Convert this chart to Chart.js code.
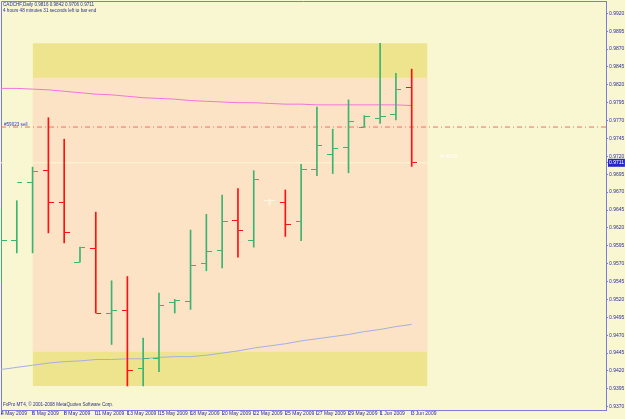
<!DOCTYPE html>
<html><head><meta charset="utf-8">
<script src="https://cdn.jsdelivr.net/npm/chart.js@4.4.1/dist/chart.umd.min.js"></script>
<style>html,body{margin:0;padding:0;background:#F8F7D2;overflow:hidden}canvas{display:block}</style>
</head><body>
<canvas id="c" width="625" height="419"></canvas>
<script>
// ---------------- data ----------------
const symbolTitle = 'CADCHF,Daily';
const timerText = '4 hours 48 minutes 31 seconds left to bar end';
const copyrightText = 'FxPro MT4, \u00A9 2001-2008 MetaQuotes Software Corp.';
const dates = ['4 May 2009','5 May 2009','6 May 2009','7 May 2009','8 May 2009','10 May 2009','11 May 2009',
  '12 May 2009','13 May 2009','14 May 2009','15 May 2009','17 May 2009','18 May 2009','19 May 2009',
  '20 May 2009','21 May 2009','22 May 2009','24 May 2009','25 May 2009','26 May 2009','27 May 2009',
  '28 May 2009','29 May 2009','31 May 2009','1 Jun 2009','2 Jun 2009','3 Jun 2009'];
const opens  = [0.9597,0.9602,0.9684,0.9700,0.9656,0.9572,0.9591,0.9501,0.9505,0.9423,0.9438,0.9515,0.9517,0.9570,
  0.9589,0.9631,0.9603,0.9658,0.9656,0.9629,0.9702,0.9722,0.9733,0.9761,0.9773,0.9778,0.9816];
const highs  = [0.9648,0.9658,0.9705,0.9774,0.9744,0.9593,0.9642,0.9546,0.9552,0.9466,0.9529,0.9520,0.9617,0.9639,
  0.9666,0.9675,0.9700,0.9660,0.9673,0.9709,0.9789,0.9758,0.9799,0.9777,0.9878,0.9836,0.9842];
const lows   = [0.9543,0.9585,0.9585,0.9613,0.9599,0.9572,0.9501,0.9457,0.9399,0.9399,0.9419,0.9501,0.9506,0.9560,
  0.9564,0.9579,0.9593,0.9652,0.9608,0.9602,0.9693,0.9696,0.9697,0.9761,0.9766,0.9771,0.9706];
const closes = [0.9603,0.9684,0.9699,0.9656,0.9614,0.9592,0.9501,0.9504,0.9421,0.9438,0.9511,0.9519,0.9568,0.9587,
  0.9629,0.9616,0.9688,0.9658,0.9625,0.9702,0.9735,0.9731,0.9769,0.9776,0.9776,0.9813,0.9711];
const maPink = [0.9815,0.9815,0.9814,0.9813,0.9811,0.9809,0.9807,0.9806,0.9804,0.9802,0.9801,0.9800,0.9798,0.9797,
  0.9796,0.9795,0.9795,0.9794,0.9793,0.9793,0.9792,0.9792,0.9792,0.9792,0.9792,0.9792,0.9791];
const maBlue = [0.9422,0.9425,0.9428,0.9431,0.9433,0.9434,0.9436,0.9436,0.9437,0.9437,0.9439,0.9440,0.9440,0.9442,
  0.9445,0.9448,0.9452,0.9455,0.9458,0.9462,0.9465,0.9468,0.9471,0.9475,0.9478,0.9482,0.9485];
const priceTicks = [0.9370,0.9395,0.9420,0.9445,0.9470,0.9495,0.9520,0.9545,0.9570,0.9595,0.9620,0.9645,0.9670,
  0.9695,0.9720,0.9745,0.9770,0.9795,0.9820,0.9845,0.9870,0.9895,0.9920];
const zoneStart = 2, zoneEnd = 27;
const zoneOuter = [0.9399, 0.9878];
const zoneInner = [0.9447, 0.9830];
const orderPrice = 0.9761;
const orderLabel = '#59023 sell';
const barTimer = '4h 48 31';
const visibleSlots = 38.3;
const priceMin = 0.93654, priceMax = 0.99372;

// ---------------- style ----------------
const BG = '#F8F7D2', FRAME = '#7b7be6', TXT = '#2e2e96';
const UP = '#3cb371', DOWN = '#ff1010', DOJI = '#fff6e2';
const FONT = {family: "'Liberation Sans', Arial, sans-serif", size: 5};
const HEAD_SIZE = 4.6;
const last = closes.length - 1;
const bid = closes[last];
const idx = closes.map((_, i) => i);
const barColors = idx.map(i => closes[i] > opens[i] ? UP : (closes[i] < opens[i] ? DOWN : DOJI));

function tickImg(color, side) {
  const c = document.createElement('canvas');
  c.width = 11; c.height = 1;
  const g = c.getContext('2d');
  g.fillStyle = color;
  g.fillRect(side === 'open' ? 0 : 6, 0, 5, 1);
  return c;
}
const imgs = {};
[UP, DOWN, DOJI].forEach(col => { imgs[col] = {open: tickImg(col, 'open'), close: tickImg(col, 'close')}; });

function noPad(s) { s.paddingLeft = 0; s.paddingRight = 0; s.paddingTop = 0; s.paddingBottom = 0; }

const bgPlugin = {
  id: 'bg',
  beforeDraw(chart) {
    const {ctx} = chart;
    ctx.save(); ctx.fillStyle = BG; ctx.fillRect(0, 0, chart.width, chart.height); ctx.restore();
  },
  beforeDatasetsDraw(chart) {
    const {ctx, chartArea: a} = chart;
    ctx.save(); ctx.strokeStyle = FRAME; ctx.lineWidth = 1;
    ctx.beginPath();
    ctx.moveTo(a.left + 0.5, a.bottom); ctx.lineTo(a.left + 0.5, a.top + 0.5); ctx.lineTo(a.right, a.top + 0.5);
    ctx.stroke(); ctx.restore();
  },
  afterDraw(chart) {
    const {ctx} = chart;
    const y = chart.scales.y, x = chart.scales.x;
    ctx.save();
    ctx.textBaseline = 'middle';
    ctx.fillStyle = TXT;
    const f = v => v.toFixed(4);
    ctx.font = HEAD_SIZE + "px " + FONT.family;
    ctx.fillText(symbolTitle + ' ' + f(opens[last]) + ' ' + f(highs[last]) + ' ' + f(lows[last]) + ' ' + f(closes[last]), 3, 5);
    ctx.fillText(timerText, 3, 10.5);
    ctx.fillText(copyrightText, 3, 405);
    ctx.fillStyle = '#3434c8';
    ctx.fillText(orderLabel, 4, y.getPixelForValue(orderPrice) - 2);
    ctx.fillStyle = '#ffffff';
    ctx.fillText(barTimer, x.getPixelForValue(last + 1.75), y.getPixelForValue(bid) - 6);
    ctx.restore();
  }
};

new Chart(document.getElementById('c'), {
  type: 'bar',
  data: {
    datasets: [
      {type: 'line', order: 10, data: [{x: zoneStart, y: zoneOuter[1]}, {x: zoneEnd, y: zoneOuter[1]}],
        fill: {value: zoneOuter[0]}, backgroundColor: '#EFE48E', borderWidth: 0, pointRadius: 0},
      {type: 'line', order: 9, data: [{x: zoneStart, y: zoneInner[1]}, {x: zoneEnd, y: zoneInner[1]}],
        fill: {value: zoneInner[0]}, backgroundColor: '#FDE3C6', borderWidth: 0, pointRadius: 0},
      {type: 'line', order: 8, data: [{x: 0, y: bid}, {x: visibleSlots, y: bid}],
        borderColor: BG, borderWidth: 1, pointRadius: 0, fill: false},
      {type: 'line', order: 7, data: [{x: 0, y: orderPrice}, {x: visibleSlots, y: orderPrice}],
        borderColor: '#E8735E', borderWidth: 1, borderDash: [5, 3, 1, 3], pointRadius: 0, fill: false},
      {type: 'line', order: 6, data: idx.map(i => ({x: i, y: maPink[i]})),
        borderColor: '#F274DA', borderWidth: 1, pointRadius: 0, fill: false, tension: 0},
      {type: 'line', order: 6, data: idx.map(i => ({x: i, y: maBlue[i]})),
        borderColor: '#A2B0E4', borderWidth: 1, pointRadius: 0, fill: false, tension: 0},
      {type: 'bar', order: 3, data: idx.map(i => ({x: i, y: [lows[i], highs[i]]})),
        backgroundColor: barColors, barThickness: 1, borderWidth: 0, grouped: false},
      {type: 'line', order: 2, showLine: false, data: idx.map(i => ({x: i, y: opens[i]})),
        pointStyle: idx.map(i => imgs[barColors[i]].open), pointRadius: 3},
      {type: 'line', order: 1, showLine: false, data: idx.map(i => ({x: i, y: closes[i]})),
        pointStyle: idx.map(i => imgs[barColors[i]].close), pointRadius: 3}
    ]
  },
  options: {
    responsive: false, animation: false, events: [], devicePixelRatio: 1,
    layout: {autoPadding: false, padding: {left: 1, top: 1, right: 0, bottom: 0}},
    plugins: {legend: {display: false}, tooltip: {enabled: false}},
    scales: {
      x: {
        type: 'linear', position: 'bottom', min: 0, max: visibleSlots, offset: false,
        afterBuildTicks: s => { s.ticks = idx.filter(i => i % 2 === 0).map(v => ({value: v})); },
        afterFit: s => { s.height = 9; noPad(s); },
        grid: {drawOnChartArea: false, drawTicks: true, tickLength: 5, color: FRAME, offset: false},
        border: {display: true, color: FRAME},
        ticks: {autoSkip: false, maxRotation: 0, align: 'start', padding: -4, color: TXT, font: FONT,
          callback: v => dates[v] || ''}
      },
      y: {
        type: 'linear', position: 'right', min: priceMin, max: priceMax, beginAtZero: false,
        afterBuildTicks: s => { s.ticks = priceTicks.concat([bid]).map(v => ({value: v})); },
        afterFit: s => { s.width = 19; noPad(s); },
        grid: {drawOnChartArea: false, drawTicks: true, tickLength: 2, color: FRAME},
        border: {display: true, color: FRAME},
        ticks: {autoSkip: false, padding: 1, font: FONT,
          color: c => (c.tick && c.tick.value === bid) ? '#ffffff' : TXT,
          showLabelBackdrop: c => !!(c.tick && c.tick.value === bid),
          backdropColor: '#2626c8', backdropPadding: {top: 1, bottom: 1, left: 1, right: 1},
          callback: v => Number(v).toFixed(4)}
      }
    }
  },
  plugins: [bgPlugin]
});
</script>
</body></html>
